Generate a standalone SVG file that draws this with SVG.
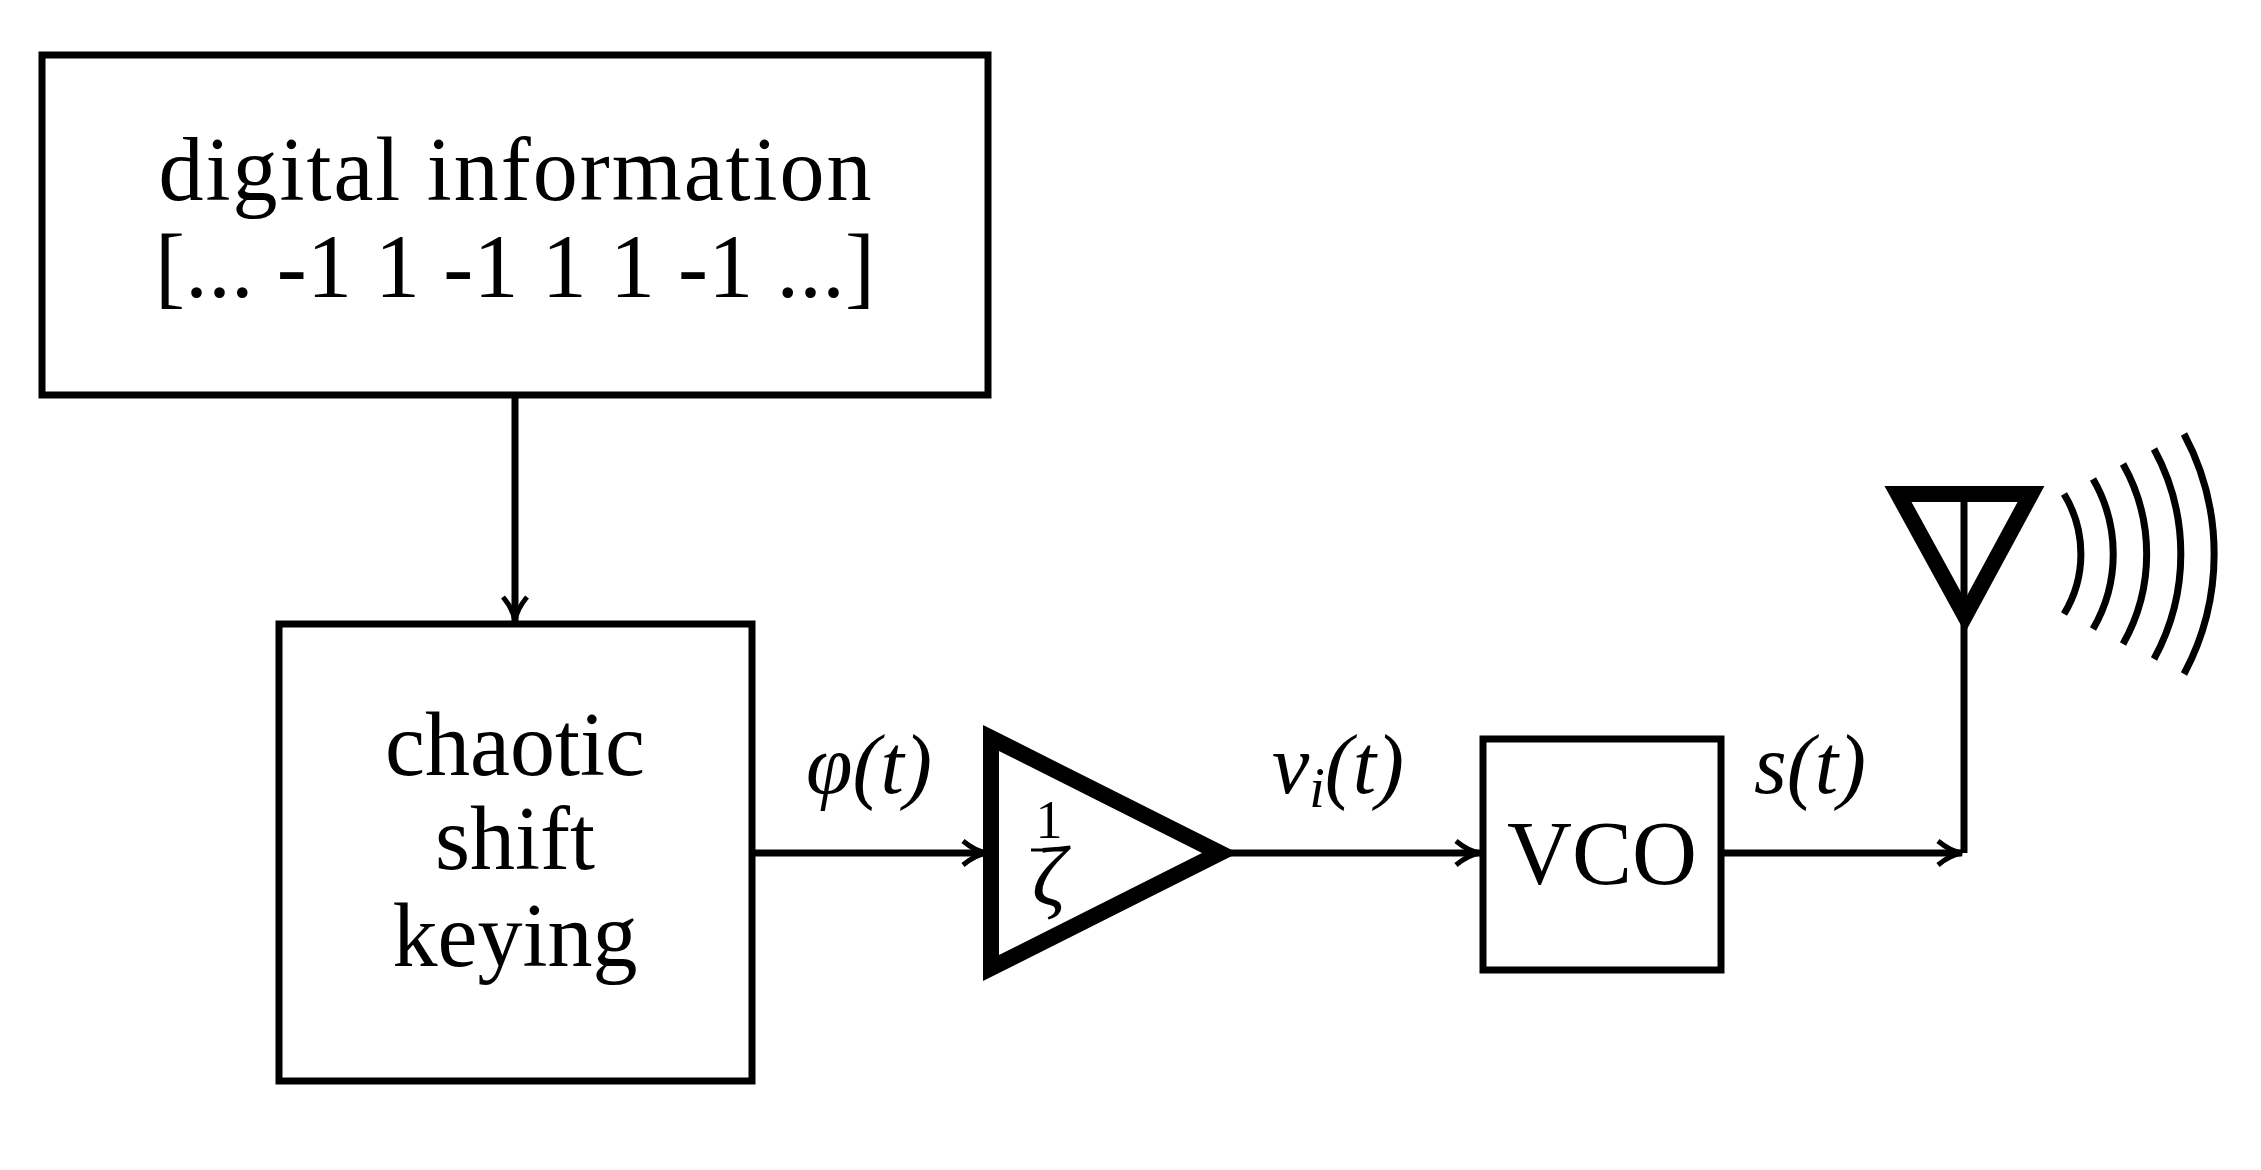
<svg xmlns="http://www.w3.org/2000/svg" width="2261" height="1170" viewBox="0 0 2261 1170">
<defs>
<style>
.box{fill:none;stroke:#000;stroke-width:7}
.thick{fill:none;stroke:#000;stroke-width:16;stroke-linejoin:miter}
.ln{fill:none;stroke:#000;stroke-width:7}
.t{font-family:"Liberation Serif",serif;font-size:90px;fill:#000;text-anchor:middle}
.m{font-family:"Liberation Serif",serif;font-style:italic;font-size:84px;fill:#000;text-anchor:middle}
</style>
<marker id="ah" viewBox="0 0 30 30" refX="27" refY="15" markerWidth="30" markerHeight="30" markerUnits="userSpaceOnUse" orient="auto">
<path d="M3,3 Q15,13 27,15 Q15,17 3,27" fill="none" stroke="#000" stroke-width="5"/>
</marker>
</defs>
<rect width="2261" height="1170" fill="#fff"/>
<g id="info">
<rect class="box" x="42" y="55" width="946" height="340"/>
<text class="t" x="515" y="200" textLength="713">digital information</text>
<text class="t" x="515" y="297" textLength="720">[... -1 1 -1 1 1 -1 ...]</text>
</g>
<g id="csk">
<rect class="box" x="279" y="624" width="473" height="457"/>
<text class="t" x="515" y="775">chaotic</text>
<text class="t" x="515" y="869">shift</text>
<text class="t" x="515" y="966">keying</text>
</g>
<g id="amp">
<path class="thick" d="M991,738 L1220,853 L991,968 Z"/>
<text x="1049" y="838" font-family="Liberation Serif,serif" font-size="54" text-anchor="middle">1</text>
<line x1="1031" y1="850" x2="1067" y2="850" stroke="#000" stroke-width="3"/>
<text class="m" x="1049" y="905" font-size="52">ζ</text>
</g>
<g id="vco">
<rect class="box" x="1483" y="739" width="238" height="231"/>
<text class="t" x="1602" y="884">VCO</text>
</g>
<g id="antenna">
<path class="thick" d="M1898,494 L2031,494 L1965,616 Z"/>
<line class="ln" x1="1964" y1="494" x2="1964" y2="853"/>
<g class="ln">
<path d="M2064,494 A115,115 0 0 1 2064,614"/>
<path d="M2093,479 A149,149 0 0 1 2093,629"/>
<path d="M2123,464 A183,183 0 0 1 2123,644"/>
<path d="M2154,449 A219,219 0 0 1 2154,659"/>
<path d="M2184,434 A254,254 0 0 1 2184,674"/>
</g>
</g>
<g id="connectors">
<line class="ln" x1="515" y1="395" x2="515" y2="621" marker-end="url(#ah)"/>
<line class="ln" x1="752" y1="853" x2="987" y2="853" marker-end="url(#ah)"/>
<line class="ln" x1="1227" y1="853" x2="1480" y2="853" marker-end="url(#ah)"/>
<line class="ln" x1="1721" y1="853" x2="1962" y2="853" marker-end="url(#ah)"/>
</g>
<g id="labels">
<text class="m" x="869" y="793">φ(t)</text>
<text class="m" x="1338" y="793">v<tspan font-size="56" dy="14">i</tspan><tspan dy="-14">(t)</tspan></text>
<text class="m" x="1810" y="793">s(t)</text>
</g>
</svg>
